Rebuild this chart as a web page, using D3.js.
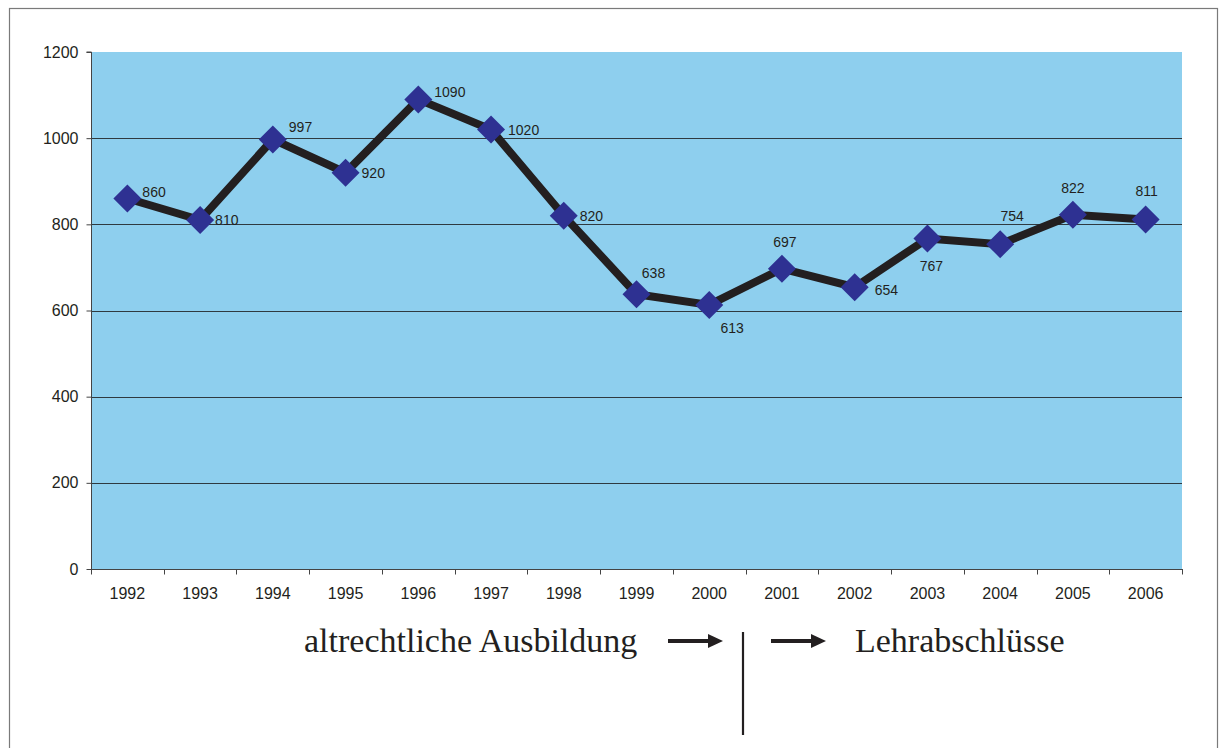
<!DOCTYPE html>
<html>
<head>
<meta charset="utf-8">
<script src="https://cdn.jsdelivr.net/npm/d3@7"></script>
<style>
  html, body { margin: 0; padding: 0; background: #fff; }
  svg { display: block; }
</style>
</head>
<body>
<svg id="chart" width="1222" height="748"></svg>
<script>
// ---- data ----
const years = ["1992","1993","1994","1995","1996","1997","1998","1999","2000","2001","2002","2003","2004","2005","2006"];
const values = [860, 810, 997, 920, 1090, 1020, 820, 638, 613, 697, 654, 767, 754, 822, 811];
const yTicks = [0, 200, 400, 600, 800, 1000, 1200];
// label placement (layout only): [dx, dy, anchor]
const labelPlacement = [
  [15, -1, "start"], [15, 5, "start"], [16, -7, "start"], [16, 5, "start"],
  [16, -2, "start"], [17, 5, "start"], [16, 5, "start"], [17, -16, "middle"],
  [23, 28, "middle"], [3, -22, "middle"], [20, 8, "start"], [4, 32, "middle"],
  [12, -23, "middle"], [0, -22, "middle"], [1, -24, "middle"]
];
const leftNote = "altrechtliche Ausbildung";
const rightNote = "Lehrabschlüsse";

// ---- layout ----
const svg = d3.select("#chart");
const L = 91, R = 1182, T = 52, B = 569;
const sans = "Liberation Sans, Arial, sans-serif";

// outer frame
svg.append("rect").attr("x", 9.5).attr("y", 8.5).attr("width", 1208).attr("height", 760)
  .attr("fill", "none").attr("stroke", "#7a7a7a").attr("stroke-width", 1.2);

const x = d3.scaleBand().domain(years).range([L, R]).padding(0);
const y = d3.scaleLinear().domain([0, 1200]).range([B, T]);

// plot background
svg.append("rect").attr("x", L).attr("y", T).attr("width", R - L).attr("height", B - T)
  .attr("fill", "#8ecfee");

// gridlines
svg.append("g").selectAll("line").data(yTicks.filter(d => d > 0 && d < 1200)).join("line")
  .attr("x1", L).attr("x2", R)
  .attr("y1", d => Math.round(y(d)) + 0.5).attr("y2", d => Math.round(y(d)) + 0.5)
  .attr("stroke", "#2f3a40").attr("stroke-width", 1);

// y axis
const yAxis = d3.axisLeft(y).tickValues(yTicks).tickSize(5).tickPadding(8).tickFormat(d3.format("d"));
const gy = svg.append("g").attr("transform", `translate(${L + 0.5},0)`).call(yAxis);
gy.select(".domain").attr("stroke", "#444").attr("d", `M-5,${T}H0V${B}`);
gy.selectAll(".tick line").attr("stroke", "#444");
gy.selectAll("text").attr("font-family", sans)
  .attr("font-size", 16).attr("fill", "#231f20");

// x axis: ticks at category boundaries
const gx = svg.append("g").attr("transform", `translate(0,${B + 0.5})`);
gx.append("line").attr("x1", L).attr("x2", R + 1).attr("stroke", "#444");
const bounds = years.map(d => x(d)).concat([x(years[years.length - 1]) + x.bandwidth()]);
gx.selectAll("line.tk").data(bounds).join("line").attr("class", "tk")
  .attr("x1", d => Math.round(d) + 0.5).attr("x2", d => Math.round(d) + 0.5)
  .attr("y1", 0).attr("y2", 5).attr("stroke", "#444");
gx.selectAll("text").data(years).join("text")
  .attr("x", d => x(d) + x.bandwidth() / 2).attr("y", 29.5)
  .attr("text-anchor", "middle")
  .attr("font-family", sans)
  .attr("font-size", 16).attr("fill", "#231f20")
  .text(d => d);

// line
const cx = (d, i) => x(years[i]) + x.bandwidth() / 2;
const line = d3.line().x((d, i) => cx(d, i)).y(d => y(d));
svg.append("path").datum(values).attr("d", line)
  .attr("fill", "none").attr("stroke", "#231f20").attr("stroke-width", 8)
  .attr("stroke-linejoin", "miter");

// markers
const s = 14;
svg.append("g").selectAll("path").data(values).join("path")
  .attr("transform", (d, i) => `translate(${cx(d, i)},${y(d)})`)
  .attr("d", `M0,${-s}L${s},0L0,${s}L${-s},0Z`)
  .attr("fill", "#2e3192");

// data labels
svg.append("g").selectAll("text").data(values).join("text")
  .attr("x", (d, i) => cx(d, i) + labelPlacement[i][0])
  .attr("y", (d, i) => y(d) + labelPlacement[i][1])
  .attr("text-anchor", (d, i) => labelPlacement[i][2])
  .attr("font-family", sans)
  .attr("font-size", 14).attr("fill", "#231f20")
  .text(d => d);

// annotations
const serif = "Liberation Serif, Times New Roman, serif";
svg.append("text").attr("x", 304).attr("y", 652).attr("font-family", serif)
  .attr("font-size", 34).attr("fill", "#231f20").text(leftNote);
svg.append("text").attr("x", 855).attr("y", 652).attr("font-family", serif)
  .attr("font-size", 34).attr("fill", "#231f20").text(rightNote);

function arrow(x0, x1, yy) {
  svg.append("line").attr("x1", x0).attr("x2", x1 - 12).attr("y1", yy).attr("y2", yy)
    .attr("stroke", "#231f20").attr("stroke-width", 4);
  svg.append("path").attr("d", `M${x1 - 15},${yy - 7}L${x1},${yy}L${x1 - 15},${yy + 7}Z`)
    .attr("fill", "#231f20");
}
arrow(668, 723, 641);
arrow(771, 826, 641);
svg.append("line").attr("x1", 743).attr("x2", 743).attr("y1", 632).attr("y2", 735)
  .attr("stroke", "#231f20").attr("stroke-width", 2.2);
</script>
</body>
</html>
